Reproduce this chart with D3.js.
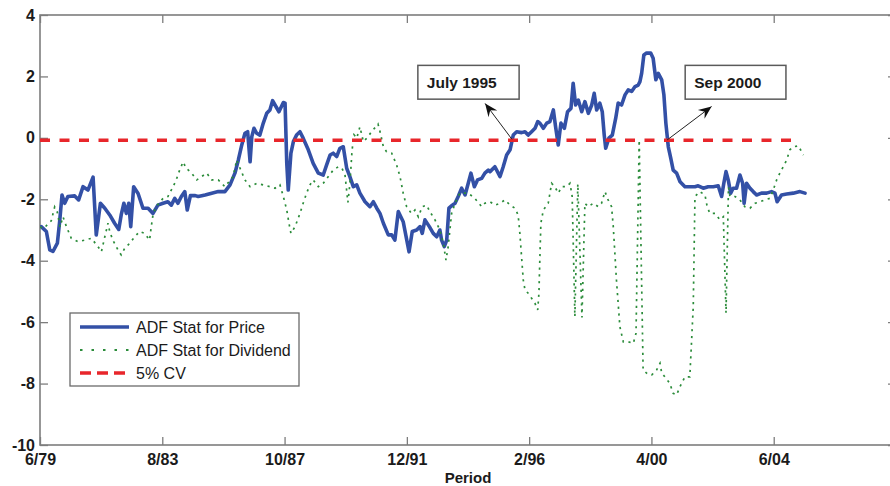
<!DOCTYPE html>
<html>
<head>
<meta charset="utf-8">
<script src="https://cdn.jsdelivr.net/npm/d3@7"></script>
<style>
  html, body { margin: 0; padding: 0; background: #fff; }
  svg { display: block; font-family: "Liberation Sans", Arial, Helvetica, sans-serif; }
</style>
</head>
<body>
<script>
// ---------------- DATA ----------------
// x = months since June 1979
const xTickMonths = [0, 50, 100, 150, 200, 250, 300];
const xTickLabels = ["6/79", "8/83", "10/87", "12/91", "2/96", "4/00", "6/04"];
const yTicks = [-10, -8, -6, -4, -2, 0, 2, 4];
const xDomain = [0, 350];
const yDomain = [-10, 4];

const seriesNames = ["ADF Stat for Price", "ADF Stat for Dividend", "5% CV"];

const priceSeries = [
[0.5,-2.89],[2.6,-3.05],[4.0,-3.65],[5.3,-3.70],[7.1,-3.43],[8.1,-2.67],[9.0,-1.86],[10.1,-2.13],[11.4,-1.91],[14.2,-1.89],[15.8,-2.02],[17.6,-1.59],[19.6,-1.70],[21.7,-1.28],[23.0,-3.16],[24.7,-2.13],[26.5,-2.29],[28.5,-2.51],[30.5,-2.78],[32.2,-2.98],[33.2,-2.51],[34.3,-2.13],[35.3,-2.46],[36.3,-2.13],[37.1,-2.89],[38.3,-1.59],[40.1,-1.81],[42.1,-2.29],[44.2,-2.29],[46.2,-2.46],[48.2,-2.19],[50.3,-2.13],[52.3,-2.08],[53.7,-2.19],[55.1,-1.97],[56.4,-2.13],[57.8,-1.91],[59.2,-1.75],[60.2,-2.35],[61.5,-1.88],[63.5,-1.88],[64.7,-1.91],[67.5,-1.86],[70.2,-1.80],[72.9,-1.75],[75.6,-1.75],[77.7,-1.53],[79.7,-1.15],[81.1,-0.72],[82.5,-0.23],[83.8,0.15],[84.9,0.20],[85.9,-0.78],[86.6,0.04],[87.5,0.31],[88.6,0.15],[89.9,0.09],[91.3,0.48],[92.7,0.80],[94.0,0.91],[95.1,1.21],[96.1,1.07],[97.7,0.85],[99.5,1.15],[100.2,1.13],[100.9,-0.83],[101.5,-1.70],[102.6,-0.50],[103.6,-0.12],[104.9,0.09],[106.3,0.20],[107.6,-0.01],[109.7,-0.39],[111.7,-0.83],[113.8,-1.15],[115.8,-1.21],[117.2,-0.88],[118.6,-0.56],[119.9,-0.50],[121.3,-0.61],[122.6,-0.34],[124.0,-0.29],[125.4,-0.99],[126.7,-1.26],[128.1,-1.59],[129.5,-1.53],[130.8,-1.80],[132.9,-2.08],[134.9,-2.24],[136.3,-2.08],[137.7,-2.29],[139.0,-2.46],[140.4,-2.78],[142.4,-3.16],[143.8,-3.16],[145.1,-3.33],[146.5,-2.40],[148.5,-2.73],[150.9,-3.71],[152.2,-3.05],[154.0,-3.00],[155.4,-2.89],[156.3,-3.11],[157.4,-2.67],[159.2,-2.89],[160.8,-3.11],[162.2,-3.22],[163.5,-3.00],[164.2,-3.33],[165.3,-3.54],[166.3,-3.33],[167.2,-2.29],[168.6,-2.19],[169.7,-2.13],[171.0,-1.91],[172.4,-1.64],[173.8,-1.86],[175.1,-1.48],[176.2,-1.15],[177.6,-1.59],[178.9,-1.37],[180.6,-1.32],[181.9,-1.15],[183.3,-1.05],[184.0,-1.10],[186.0,-0.94],[188.1,-1.26],[189.4,-0.94],[190.8,-0.56],[192.2,-0.39],[193.5,0.09],[194.9,0.20],[196.9,0.17],[198.3,0.20],[199.6,0.09],[201.0,0.20],[202.4,0.31],[203.5,0.53],[204.4,0.48],[205.8,0.31],[207.2,0.48],[208.5,0.53],[209.9,0.91],[210.8,0.37],[211.9,-0.23],[213.0,0.48],[214.4,0.31],[215.7,0.85],[217.1,0.96],[218.0,1.78],[219.0,1.07],[220.1,1.23],[221.5,0.85],[222.8,1.18],[224.2,0.80],[225.6,1.07],[226.6,1.45],[227.6,0.91],[228.9,1.13],[229.9,0.85],[230.7,0.09],[231.3,-0.34],[232.6,-0.01],[234.0,0.09],[235.4,0.64],[236.4,1.13],[237.8,1.07],[239.2,1.40],[240.5,1.56],[241.9,1.51],[243.3,1.67],[244.6,1.72],[245.3,1.83],[246.0,2.10],[246.9,2.70],[248.0,2.76],[249.7,2.76],[250.7,2.59],[251.8,1.89],[252.8,2.10],[254.2,1.89],[255.1,1.40],[255.9,0.48],[256.9,-0.29],[257.9,-0.66],[258.9,-1.05],[260.3,-1.15],[261.7,-1.43],[263.7,-1.59],[265.7,-1.59],[267.8,-1.59],[269.1,-1.56],[271.2,-1.64],[273.2,-1.59],[275.3,-1.59],[277.3,-1.56],[278.7,-1.91],[279.6,-1.48],[280.5,-1.10],[281.4,-1.37],[282.4,-1.80],[283.4,-1.64],[284.8,-1.64],[286.2,-1.21],[287.3,-1.48],[287.9,-2.13],[288.9,-1.48],[290.3,-1.64],[291.6,-1.75],[293.0,-1.86],[295.0,-1.80],[297.1,-1.80],[299.1,-1.75],[300.5,-1.80],[301.4,-2.08],[303.2,-1.86],[305.3,-1.83],[308.0,-1.80],[310.7,-1.75],[312.8,-1.80]
];

const dividendSeries = [
[0,-2.90],[1.6,-2.95],[3.3,-2.80],[4.6,-2.70],[6.0,-2.25],[7.0,-2.40],[8.2,-2.90],[9.4,-2.57],[10.8,-2.89],[12.8,-3.27],[15.5,-3.38],[18.3,-3.33],[21.0,-3.27],[23.7,-3.54],[25.1,-3.71],[26.5,-3.22],[27.8,-2.78],[28.5,-3.05],[29.8,-3.33],[31.9,-3.65],[33.2,-3.81],[34.6,-3.60],[36.7,-3.43],[38.7,-3.22],[40.8,-3.05],[42.8,-3.11],[44.8,-3.33],[45.5,-2.89],[46.2,-2.51],[47.5,-2.24],[50.3,-1.97],[52.3,-1.91],[54.4,-1.59],[55.7,-1.37],[57.1,-1.05],[58.5,-0.78],[59.8,-0.99],[62.0,-1.15],[64.1,-1.37],[66.1,-1.26],[68.2,-1.15],[70.2,-1.37],[72.9,-1.37],[75.6,-1.59],[79.0,-1.26],[80.4,-0.72],[81.8,-0.99],[83.8,-1.37],[85.9,-1.59],[88.6,-1.48],[91.3,-1.53],[94.0,-1.59],[96.1,-1.64],[98.1,-1.53],[99.5,-1.91],[100.9,-2.35],[101.8,-2.78],[102.6,-3.11],[104.3,-2.89],[106.3,-2.46],[107.6,-2.13],[109.0,-1.80],[110.4,-1.53],[111.7,-1.37],[113.8,-1.59],[115.8,-1.48],[117.9,-1.26],[119.9,-1.05],[122.0,-0.94],[123.5,-1.00],[124.7,-1.20],[125.9,-2.10],[126.7,-1.50],[127.6,-0.40],[128.4,0.10],[129.5,-0.01],[130.8,0.36],[132.2,-0.12],[133.6,-0.01],[135.6,0.20],[138.2,0.45],[139.2,0.15],[140.4,-0.29],[141.7,-0.45],[143.8,-0.50],[145.8,-0.88],[147.2,-1.26],[148.5,-1.80],[149.9,-2.24],[151.9,-2.46],[153.3,-2.35],[154.7,-2.57],[156.3,-2.24],[158.1,-2.19],[159.4,-2.40],[161.5,-2.67],[163.5,-3.00],[164.9,-3.43],[166.0,-3.98],[166.9,-3.54],[168.3,-2.46],[169.7,-2.13],[171.7,-1.80],[175.1,-1.80],[177.8,-1.97],[180.6,-2.24],[181.9,-2.13],[184.0,-2.08],[186.0,-2.19],[188.1,-2.13],[190.1,-2.02],[192.2,-2.19],[194.2,-2.29],[195.5,-2.51],[196.2,-3.11],[196.9,-3.87],[197.6,-4.63],[198.3,-4.95],[199.6,-5.06],[201.0,-5.22],[202.4,-5.39],[203.5,-5.60],[204.0,-5.06],[204.4,-3.87],[204.8,-2.78],[205.8,-2.35],[207.8,-2.13],[209.2,-1.48],[210.5,-1.59],[211.9,-1.80],[213.3,-1.59],[215.3,-1.59],[216.7,-1.48],[217.6,-1.91],[218.7,-5.82],[219.9,-1.50],[221.6,-5.85],[222.8,-2.13],[224.2,-2.24],[226.2,-2.13],[228.2,-2.24],[229.6,-2.13],[231.0,-1.75],[232.3,-2.02],[233.7,-2.24],[234.4,-2.89],[235.7,-4.63],[237.1,-6.15],[238.5,-6.64],[240.5,-6.64],[242.6,-6.69],[243.7,-6.36],[245.0,-0.07],[246.6,-7.56],[248.0,-7.66],[250.1,-7.72],[252.1,-7.56],[253.5,-7.34],[254.2,-7.66],[255.5,-7.78],[257.5,-7.99],[258.9,-8.32],[260.3,-8.37],[261.7,-8.10],[263.7,-7.78],[265.7,-7.78],[267.1,-5.50],[267.8,-1.91],[269.8,-1.75],[271.9,-1.86],[272.8,-2.24],[273.9,-2.46],[276.0,-2.46],[278.0,-2.67],[279.4,-2.57],[280.5,-5.71],[281.5,-1.60],[282.1,-1.91],[284.2,-1.91],[286.2,-2.02],[288.2,-2.24],[290.3,-2.29],[292.4,-2.13],[294.4,-2.08],[296.4,-2.02],[298.4,-1.97],[299.8,-1.70],[301.2,-1.37],[302.5,-1.15],[303.9,-0.94],[305.3,-0.72],[306.6,-0.39],[308.0,-0.29],[310.1,-0.26],[312.1,-0.56]
];

const cvValue = -0.08;
const cvMonths = [0, 310];

// annotations: label, arrow tail (month, value), arrow head (month, value), box (month range, value range)
const annotLabels = ["July 1995", "Sep 2000"];
const annotTail = [[193.0, -0.05], [256.4, -0.07]];
const annotHead = [[182.0, 1.12], [274.6, 1.02]];
const annotBoxX = [[154.5, 195.9], [263.8, 305.0]];
const annotBoxY = [[2.36, 1.26], [2.36, 1.26]];

// ---------------- CHART ----------------
const W = 890, H = 486;
const x = d3.scaleLinear().domain(xDomain).range([40, 896]);
const y = d3.scaleLinear().domain(yDomain).range([445, 15]);

const svg = d3.select("body").append("svg").attr("width", W).attr("height", H);

const defs = svg.append("defs");
defs.append("clipPath").attr("id", "plotclip")
  .append("rect").attr("x", x(xDomain[0])).attr("y", y(yDomain[1]))
  .attr("width", x(xDomain[1]) - x(xDomain[0])).attr("height", y(yDomain[0]) - y(yDomain[1]));
defs.append("marker").attr("id", "arrowhead")
  .attr("viewBox", "-14 -7 16 14").attr("refX", 0).attr("refY", 0)
  .attr("markerWidth", 16).attr("markerHeight", 14)
  .attr("markerUnits", "userSpaceOnUse").attr("orient", "auto")
  .append("path").attr("d", "M0,0 L-13,-5.5 L-8.5,0 L-13,5.5 Z").attr("fill", "#111");

const axisColor = "#7d7d7d";
const textColor = "#1b1b1b";

// axes (ticks inward)
const gx = svg.append("g").attr("transform", `translate(0,${y(yDomain[0])})`)
  .call(d3.axisBottom(x).tickValues(xTickMonths).tickFormat((d, i) => xTickLabels[i]).tickSize(-8).tickPadding(9));
const gxt = svg.append("g").attr("transform", `translate(0,${y(yDomain[1])})`)
  .call(d3.axisTop(x).tickValues(xTickMonths).tickFormat("").tickSize(-8));
const gy = svg.append("g").attr("transform", `translate(${x(xDomain[0])},0)`)
  .call(d3.axisLeft(y).tickValues(yTicks).tickFormat(d => String(d)).tickSize(-8).tickPadding(5));
const gyr = svg.append("g").attr("transform", `translate(${x(xDomain[1])},0)`)
  .call(d3.axisRight(y).tickValues(yTicks).tickFormat("").tickSize(-8));

[gx, gxt, gy, gyr].forEach(g => {
  g.select(".domain").remove();
  g.selectAll(".tick line").attr("stroke", axisColor).attr("stroke-width", 1.3);
  g.selectAll(".tick text").attr("fill", textColor)
    .style("font-family", '"Liberation Sans", Arial, sans-serif')
    .style("font-size", "16px").style("font-weight", "bold");
});

// box
svg.append("rect")
  .attr("x", x(xDomain[0])).attr("y", y(yDomain[1]))
  .attr("width", x(xDomain[1]) - x(xDomain[0])).attr("height", y(yDomain[0]) - y(yDomain[1]))
  .attr("fill", "none").attr("stroke", axisColor).attr("stroke-width", 1.6);

// x label
svg.append("text").attr("x", (x(xDomain[0]) + x(xDomain[1])) / 2).attr("y", 483)
  .attr("text-anchor", "middle").attr("fill", textColor)
  .style("font-size", "15px").style("font-weight", "bold").text("Period");

const line = d3.line().x(d => x(d[0])).y(d => y(d[1]));
const plot = svg.append("g").attr("clip-path", "url(#plotclip)");

const colors = ["#3350a6", "#2b8c3a", "#e8262b"];

plot.append("path").datum(priceSeries).attr("d", line)
  .attr("fill", "none").attr("stroke", colors[0]).attr("stroke-width", 3.6)
  .attr("stroke-linejoin", "round").attr("stroke-linecap", "round");

plot.append("path").datum(dividendSeries).attr("d", line)
  .attr("fill", "none").attr("stroke", colors[1]).attr("stroke-width", 1.7)
  .attr("stroke-dasharray", "2.2,4.6");

plot.append("path").datum(cvMonths.map(m => [m, cvValue])).attr("d", line)
  .attr("fill", "none").attr("stroke", colors[2]).attr("stroke-width", 3.6)
  .attr("stroke-dasharray", "10,9.5");

// annotations
annotLabels.forEach((lab, i) => {
  const bx0 = x(annotBoxX[i][0]), bx1 = x(annotBoxX[i][1]);
  const by0 = y(annotBoxY[i][0]), by1 = y(annotBoxY[i][1]);
  svg.append("rect").attr("x", bx0).attr("y", by0).attr("width", bx1 - bx0).attr("height", by1 - by0)
    .attr("fill", "#fff").attr("stroke", "#5a5a5a").attr("stroke-width", 1.5);
  svg.append("text").attr("x", bx0 + 9).attr("y", (by0 + by1) / 2).attr("dy", "0.36em")
    .attr("fill", textColor).style("font-size", "15.5px").style("font-weight", "bold").text(lab);
  svg.append("line")
    .attr("x1", x(annotTail[i][0])).attr("y1", y(annotTail[i][1]))
    .attr("x2", x(annotHead[i][0])).attr("y2", y(annotHead[i][1]))
    .attr("stroke", "#222").attr("stroke-width", 1)
    .attr("marker-end", "url(#arrowhead)");
});

// legend
const lg = svg.append("g");
lg.append("rect").attr("x", 70).attr("y", 313).attr("width", 229).attr("height", 73)
  .attr("fill", "#fff").attr("stroke", "#6a6a6a").attr("stroke-width", 1.3);
const legendStyles = [
  { w: 3.6, dash: null },
  { w: 1.8, dash: "2.5,9" },
  { w: 3.6, dash: "11,6" }
];
seriesNames.forEach((name, i) => {
  const yy = 327 + i * 23;
  const l = lg.append("line").attr("x1", 80).attr("x2", 129).attr("y1", yy).attr("y2", yy)
    .attr("stroke", colors[i]).attr("stroke-width", legendStyles[i].w);
  if (legendStyles[i].dash) l.attr("stroke-dasharray", legendStyles[i].dash);
  lg.append("text").attr("x", 136).attr("y", yy).attr("dy", "0.36em")
    .attr("fill", textColor).style("font-size", "16px").text(name);
});
</script>
</body>
</html>
